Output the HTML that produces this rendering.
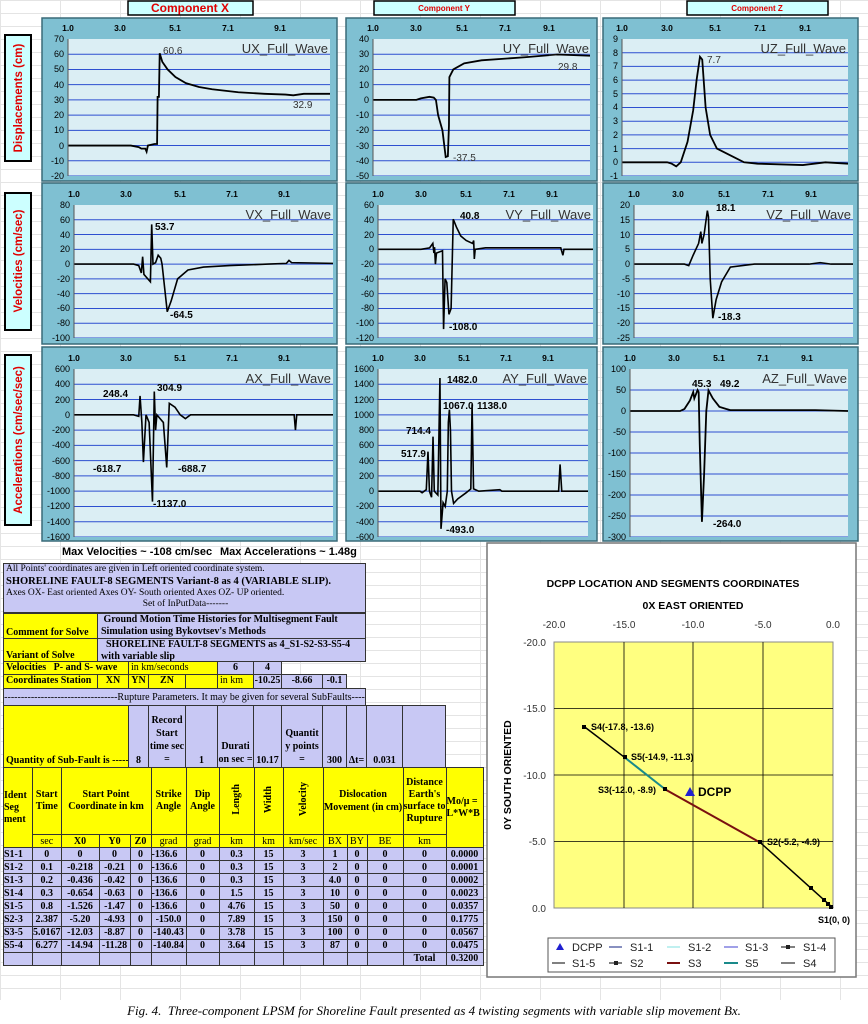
<!DOCTYPE html>
<html><head><meta charset="utf-8">
<style>
*{margin:0;padding:0;box-sizing:border-box}
body{width:868px;height:1024px;position:relative;background:#fff;overflow:hidden;font-family:"Liberation Sans",sans-serif}
.bg{position:absolute;left:0;top:0;width:868px;height:1000px;background-image:linear-gradient(#e4e4e4 1px,transparent 1px),linear-gradient(90deg,#e4e4e4 1px,transparent 1px);background-size:60px 13px,60px 13px}
.c{position:absolute;font-family:"Liberation Serif",serif;font-size:10px;font-weight:bold;color:#000;border:1px solid #333;line-height:11px;overflow:hidden;white-space:nowrap}
.y{background:#ffff00}.l{background:#c8c8f4}.w{background:#fff}
.ctr{text-align:center}.r{text-align:right}
.bt{display:flex;align-items:flex-end}
table.t{position:absolute;left:3px;top:767px;border-collapse:collapse;table-layout:fixed;font-family:"Liberation Serif",serif;font-size:10px;font-weight:bold}
table.t td{border:1px solid #333;text-align:center;padding:0;line-height:11px;overflow:hidden;white-space:nowrap}
table.t tr.d td{background:#c8c8f4;height:13.1px}
.vt{writing-mode:vertical-rl;transform:rotate(180deg);display:inline-block}
.cap{position:absolute;left:0;width:868px;top:1003px;text-align:center;font-family:"Liberation Serif",serif;font-style:italic;font-size:13px}
</style></head><body>
<div class="bg"></div>
<svg width="868" height="560" style="position:absolute;left:0;top:0" font-family="Liberation Sans, sans-serif">
<rect x="128" y="1" width="125" height="14" fill="#ccffff" stroke="#000" stroke-width="1.5"/>
<text x="190" y="12" text-anchor="middle" font-size="12" font-weight="bold" fill="#e00000">Component X</text>
<rect x="374" y="1" width="141" height="14" fill="#ccffff" stroke="#000" stroke-width="1.5"/>
<text x="444" y="11" text-anchor="middle" font-size="8" font-weight="bold" fill="#e00000">Component Y</text>
<rect x="687" y="1" width="141" height="14" fill="#ccffff" stroke="#000" stroke-width="1.5"/>
<text x="757" y="11" text-anchor="middle" font-size="8" font-weight="bold" fill="#e00000">Component Z</text>
<rect x="5" y="35" width="26" height="126" fill="#ccffff" stroke="#000" stroke-width="2"/>
<text transform="translate(22,98) rotate(-90)" text-anchor="middle" font-size="11.5" font-weight="bold" fill="#e00000">Displacements (cm)</text>
<rect x="5" y="193" width="26" height="137" fill="#ccffff" stroke="#000" stroke-width="2"/>
<text transform="translate(22,261) rotate(-90)" text-anchor="middle" font-size="11.5" font-weight="bold" fill="#e00000">Velocities (cm/sec)</text>
<rect x="5" y="355" width="26" height="170" fill="#ccffff" stroke="#000" stroke-width="2"/>
<text transform="translate(22,440) rotate(-90)" text-anchor="middle" font-size="11.5" font-weight="bold" fill="#e00000">Accelerations (cm/sec/sec)</text>
<g fill="#7fc0d2" stroke="#3a6a78" stroke-width="1.5">
<rect x="42" y="18" width="295" height="163"/><rect x="346" y="18" width="251" height="163"/><rect x="603" y="18" width="255" height="163"/>
<rect x="42" y="183" width="295" height="161"/><rect x="346" y="183" width="251" height="161"/><rect x="603" y="183" width="255" height="161"/>
<rect x="42" y="347" width="295" height="194"/><rect x="346" y="347" width="251" height="194"/><rect x="603" y="347" width="255" height="194"/>
</g>
<g font-size="9" fill="#000">

<g transform="translate(68,39)">
<rect width="262" height="137" fill="#dbeef4"/>
<svg width="262" height="137" viewBox="1 -70 10 90" preserveAspectRatio="none">
<g stroke="#2d4fd0"><line x1="1" x2="11" y1="-60" y2="-60" vector-effect="non-scaling-stroke"/><line x1="1" x2="11" y1="-50" y2="-50" vector-effect="non-scaling-stroke"/><line x1="1" x2="11" y1="-40" y2="-40" vector-effect="non-scaling-stroke"/><line x1="1" x2="11" y1="-30" y2="-30" vector-effect="non-scaling-stroke"/><line x1="1" x2="11" y1="-20" y2="-20" vector-effect="non-scaling-stroke"/><line x1="1" x2="11" y1="-10" y2="-10" vector-effect="non-scaling-stroke"/><line x1="1" x2="11" y1="0" y2="0" vector-effect="non-scaling-stroke"/><line x1="1" x2="11" y1="10" y2="10" vector-effect="non-scaling-stroke"/><line x1="1" x2="11" y1="20" y2="20" vector-effect="non-scaling-stroke"/></g>
<polyline fill="none" stroke="#000" stroke-width="1.8" vector-effect="non-scaling-stroke" points="1,0 3.4,0 3.7,1 3.8,2 3.95,2 4.0,4 4.05,0 4.3,-1 4.4,-1 4.42,-32 4.47,-32 4.5,-60.6 4.6,-55 4.8,-50 5.1,-45 5.5,-41 6,-38.5 6.5,-37 7.5,-35 8.5,-34 9.3,-33.5 9.6,-33 10,-34 11,-34"/>
</svg>
<line x1="0" y1="0" x2="0" y2="137" stroke="#555"/>
<g text-anchor="end"><text x="-4" y="3">70</text><text x="-4" y="18">60</text><text x="-4" y="33">50</text><text x="-4" y="49">40</text><text x="-4" y="64">30</text><text x="-4" y="79">20</text><text x="-4" y="94">10</text><text x="-4" y="110">0</text><text x="-4" y="125">-10</text><text x="-4" y="140">-20</text></g>
<g text-anchor="middle" font-weight="bold" font-size="8.5"><text x="0" y="-8">1.0</text><text x="52" y="-8">3.0</text><text x="107" y="-8">5.1</text><text x="160" y="-8">7.1</text><text x="212" y="-8">9.1</text></g>
<text x="260" y="14" text-anchor="end" font-size="13" fill="#333">UX_Full_Wave</text>
<text x="95" y="15" font-size="10" fill="#333">60.6</text><text x="225" y="69" font-size="10" fill="#333">32.9</text>
</g>

<g transform="translate(373,39)">
<rect width="217" height="137" fill="#dbeef4"/>
<svg width="217" height="137" viewBox="1 -40 10 90" preserveAspectRatio="none">
<g stroke="#2d4fd0"><line x1="1" x2="11" y1="-30" y2="-30" vector-effect="non-scaling-stroke"/><line x1="1" x2="11" y1="-20" y2="-20" vector-effect="non-scaling-stroke"/><line x1="1" x2="11" y1="-10" y2="-10" vector-effect="non-scaling-stroke"/><line x1="1" x2="11" y1="0" y2="0" vector-effect="non-scaling-stroke"/><line x1="1" x2="11" y1="10" y2="10" vector-effect="non-scaling-stroke"/><line x1="1" x2="11" y1="20" y2="20" vector-effect="non-scaling-stroke"/><line x1="1" x2="11" y1="30" y2="30" vector-effect="non-scaling-stroke"/><line x1="1" x2="11" y1="40" y2="40" vector-effect="non-scaling-stroke"/><line x1="1" x2="11" y1="50" y2="50" vector-effect="non-scaling-stroke"/></g>
<polyline fill="none" stroke="#000" stroke-width="1.8" vector-effect="non-scaling-stroke" points="1,0 3,0 3.2,-1 3.6,-2 3.8,-1.5 3.9,0 4.0,10 4.2,20 4.35,37.5 4.45,37 4.5,17 4.52,-15 4.7,-20 5.2,-24 6,-26 8,-28 9.5,-29.8 11,-29"/>
</svg>
<line x1="0" y1="0" x2="0" y2="137" stroke="#555"/>
<g text-anchor="end"><text x="-4" y="3">40</text><text x="-4" y="18">30</text><text x="-4" y="33">20</text><text x="-4" y="49">10</text><text x="-4" y="64">0</text><text x="-4" y="79">-10</text><text x="-4" y="94">-20</text><text x="-4" y="110">-30</text><text x="-4" y="125">-40</text><text x="-4" y="140">-50</text></g>
<g text-anchor="middle" font-weight="bold" font-size="8.5"><text x="0" y="-8">1.0</text><text x="43" y="-8">3.0</text><text x="89" y="-8">5.1</text><text x="132" y="-8">7.1</text><text x="176" y="-8">9.1</text></g>
<text x="216" y="14" text-anchor="end" font-size="13" fill="#333">UY_Full_Wave</text>
<text x="80" y="122" font-size="10" fill="#333">-37.5</text><text x="185" y="31" font-size="10" fill="#333">29.8</text>
</g>

<g transform="translate(622,39)">
<rect width="226" height="137" fill="#dbeef4"/>
<svg width="226" height="137" viewBox="1 -9 10 10" preserveAspectRatio="none">
<g stroke="#2d4fd0"><line x1="1" x2="11" y1="-8" y2="-8" vector-effect="non-scaling-stroke"/><line x1="1" x2="11" y1="-7" y2="-7" vector-effect="non-scaling-stroke"/><line x1="1" x2="11" y1="-6" y2="-6" vector-effect="non-scaling-stroke"/><line x1="1" x2="11" y1="-5" y2="-5" vector-effect="non-scaling-stroke"/><line x1="1" x2="11" y1="-4" y2="-4" vector-effect="non-scaling-stroke"/><line x1="1" x2="11" y1="-3" y2="-3" vector-effect="non-scaling-stroke"/><line x1="1" x2="11" y1="-2" y2="-2" vector-effect="non-scaling-stroke"/><line x1="1" x2="11" y1="-1" y2="-1" vector-effect="non-scaling-stroke"/><line x1="1" x2="11" y1="0" y2="0" vector-effect="non-scaling-stroke"/><line x1="1" x2="11" y1="1" y2="1" vector-effect="non-scaling-stroke"/></g>
<polyline fill="none" stroke="#000" stroke-width="1.8" vector-effect="non-scaling-stroke" points="1,0 3,0 3.2,0.1 3.4,0.3 3.6,0 3.9,-1.5 4.15,-3.8 4.3,-6 4.45,-7.7 4.55,-7.5 4.7,-4 4.9,-2 5.2,-1 5.8,-0.5 6.4,0 7,0.1 9,0.2 10,0 11,0.1"/>
</svg>
<line x1="0" y1="0" x2="0" y2="137" stroke="#555"/>
<g text-anchor="end"><text x="-4" y="3">9</text><text x="-4" y="17">8</text><text x="-4" y="30">7</text><text x="-4" y="44">6</text><text x="-4" y="58">5</text><text x="-4" y="71">4</text><text x="-4" y="85">3</text><text x="-4" y="99">2</text><text x="-4" y="113">1</text><text x="-4" y="126">0</text><text x="-4" y="140">-1</text></g>
<g text-anchor="middle" font-weight="bold" font-size="8.5"><text x="0" y="-8">1.0</text><text x="45" y="-8">3.0</text><text x="93" y="-8">5.1</text><text x="138" y="-8">7.1</text><text x="183" y="-8">9.1</text></g>
<text x="224" y="14" text-anchor="end" font-size="13" fill="#333">UZ_Full_Wave</text>
<text x="85" y="24" font-size="10" fill="#333">7.7</text>
</g>

<g transform="translate(74,205)">
<rect width="259" height="133" fill="#dbeef4"/>
<svg width="259" height="133" viewBox="1 -80 10 180" preserveAspectRatio="none">
<g stroke="#2d4fd0"><line x1="1" x2="11" y1="-60" y2="-60" vector-effect="non-scaling-stroke"/><line x1="1" x2="11" y1="-40" y2="-40" vector-effect="non-scaling-stroke"/><line x1="1" x2="11" y1="-20" y2="-20" vector-effect="non-scaling-stroke"/><line x1="1" x2="11" y1="0" y2="0" vector-effect="non-scaling-stroke"/><line x1="1" x2="11" y1="20" y2="20" vector-effect="non-scaling-stroke"/><line x1="1" x2="11" y1="40" y2="40" vector-effect="non-scaling-stroke"/><line x1="1" x2="11" y1="60" y2="60" vector-effect="non-scaling-stroke"/><line x1="1" x2="11" y1="80" y2="80" vector-effect="non-scaling-stroke"/><line x1="1" x2="11" y1="100" y2="100" vector-effect="non-scaling-stroke"/></g>
<polyline fill="none" stroke="#000" stroke-width="1.6" vector-effect="non-scaling-stroke" points="1,0 3.3,0 3.5,2 3.6,12 3.65,-10 3.7,14 3.95,24 4.0,-53.7 4.05,0 4.15,-2 4.25,-12 4.35,-8 4.4,0 4.6,64.5 4.75,50 5.0,20 5.4,8 6,4 7,2 8.5,0 9.2,-1 9.3,-5 9.4,-2 11,-1"/>
</svg>
<line x1="0" y1="0" x2="0" y2="133" stroke="#555"/>
<g text-anchor="end"><text x="-4" y="3">80</text><text x="-4" y="18">60</text><text x="-4" y="33">40</text><text x="-4" y="47">20</text><text x="-4" y="62">0</text><text x="-4" y="77">-20</text><text x="-4" y="92">-40</text><text x="-4" y="106">-60</text><text x="-4" y="121">-80</text><text x="-4" y="136">-100</text></g>
<g text-anchor="middle" font-weight="bold" font-size="8.5"><text x="0" y="-8">1.0</text><text x="52" y="-8">3.0</text><text x="106" y="-8">5.1</text><text x="158" y="-8">7.1</text><text x="210" y="-8">9.1</text></g>
<text x="257" y="14" text-anchor="end" font-size="13" fill="#333">VX_Full_Wave</text>
<text x="81" y="25" font-size="10" font-weight="bold">53.7</text><text x="96" y="113" font-size="10" font-weight="bold">-64.5</text>
</g>

<g transform="translate(378,205)">
<rect width="215" height="133" fill="#dbeef4"/>
<svg width="215" height="133" viewBox="1 -60 10 180" preserveAspectRatio="none">
<g stroke="#2d4fd0"><line x1="1" x2="11" y1="-40" y2="-40" vector-effect="non-scaling-stroke"/><line x1="1" x2="11" y1="-20" y2="-20" vector-effect="non-scaling-stroke"/><line x1="1" x2="11" y1="0" y2="0" vector-effect="non-scaling-stroke"/><line x1="1" x2="11" y1="20" y2="20" vector-effect="non-scaling-stroke"/><line x1="1" x2="11" y1="40" y2="40" vector-effect="non-scaling-stroke"/><line x1="1" x2="11" y1="60" y2="60" vector-effect="non-scaling-stroke"/><line x1="1" x2="11" y1="80" y2="80" vector-effect="non-scaling-stroke"/><line x1="1" x2="11" y1="100" y2="100" vector-effect="non-scaling-stroke"/><line x1="1" x2="11" y1="120" y2="120" vector-effect="non-scaling-stroke"/></g>
<polyline fill="none" stroke="#000" stroke-width="1.6" vector-effect="non-scaling-stroke" points="1,0 3,0 3.4,-2 3.55,-8 3.6,5 3.63,-3 3.67,20 3.72,5 4.0,2 4.05,108 4.12,40 4.2,45 4.3,88 4.4,80 4.5,-40.8 4.65,-30 4.85,-18 5.1,-12 5.4,-8 5.45,-12 5.48,13 5.52,0 6,-2 9.5,-2 9.6,8 9.65,0 11,0"/>
</svg>
<line x1="0" y1="0" x2="0" y2="133" stroke="#555"/>
<g text-anchor="end"><text x="-4" y="3">60</text><text x="-4" y="18">40</text><text x="-4" y="33">20</text><text x="-4" y="47">0</text><text x="-4" y="62">-20</text><text x="-4" y="77">-40</text><text x="-4" y="92">-60</text><text x="-4" y="106">-80</text><text x="-4" y="121">-100</text><text x="-4" y="136">-120</text></g>
<g text-anchor="middle" font-weight="bold" font-size="8.5"><text x="0" y="-8">1.0</text><text x="43" y="-8">3.0</text><text x="88" y="-8">5.1</text><text x="131" y="-8">7.1</text><text x="174" y="-8">9.1</text></g>
<text x="213" y="14" text-anchor="end" font-size="13" fill="#333">VY_Full_Wave</text>
<text x="82" y="14" font-size="10" font-weight="bold">40.8</text><text x="71" y="125" font-size="10" font-weight="bold">-108.0</text>
</g>

<g transform="translate(634,205)">
<rect width="219" height="133" fill="#dbeef4"/>
<svg width="219" height="133" viewBox="1 -20 10 45" preserveAspectRatio="none">
<g stroke="#2d4fd0"><line x1="1" x2="11" y1="-15" y2="-15" vector-effect="non-scaling-stroke"/><line x1="1" x2="11" y1="-10" y2="-10" vector-effect="non-scaling-stroke"/><line x1="1" x2="11" y1="-5" y2="-5" vector-effect="non-scaling-stroke"/><line x1="1" x2="11" y1="0" y2="0" vector-effect="non-scaling-stroke"/><line x1="1" x2="11" y1="5" y2="5" vector-effect="non-scaling-stroke"/><line x1="1" x2="11" y1="10" y2="10" vector-effect="non-scaling-stroke"/><line x1="1" x2="11" y1="15" y2="15" vector-effect="non-scaling-stroke"/><line x1="1" x2="11" y1="20" y2="20" vector-effect="non-scaling-stroke"/><line x1="1" x2="11" y1="25" y2="25" vector-effect="non-scaling-stroke"/></g>
<polyline fill="none" stroke="#000" stroke-width="1.6" vector-effect="non-scaling-stroke" points="1,0 3.3,0 3.5,0.5 3.7,-3 3.95,-7 4.05,-11 4.1,-7 4.2,-10 4.35,-18.1 4.4,-16 4.48,5 4.6,18.3 4.75,12 5.0,6 5.4,1 6.5,0 9,0 9.5,-0.5 10,0 11,0"/>
</svg>
<line x1="0" y1="0" x2="0" y2="133" stroke="#555"/>
<g text-anchor="end"><text x="-4" y="3">20</text><text x="-4" y="18">15</text><text x="-4" y="33">10</text><text x="-4" y="47">5</text><text x="-4" y="62">0</text><text x="-4" y="77">-5</text><text x="-4" y="92">-10</text><text x="-4" y="106">-15</text><text x="-4" y="121">-20</text><text x="-4" y="136">-25</text></g>
<g text-anchor="middle" font-weight="bold" font-size="8.5"><text x="0" y="-8">1.0</text><text x="44" y="-8">3.0</text><text x="90" y="-8">5.1</text><text x="134" y="-8">7.1</text><text x="177" y="-8">9.1</text></g>
<text x="217" y="14" text-anchor="end" font-size="13" fill="#333">VZ_Full_Wave</text>
<text x="82" y="6" font-size="10" font-weight="bold">18.1</text><text x="84" y="115" font-size="10" font-weight="bold">-18.3</text>
</g>

<g transform="translate(74,369)">
<rect width="259" height="168" fill="#dbeef4"/>
<svg width="259" height="168" viewBox="1 -600 10 2200" preserveAspectRatio="none">
<g stroke="#2d4fd0"><line x1="1" x2="11" y1="-400" y2="-400" vector-effect="non-scaling-stroke"/><line x1="1" x2="11" y1="-200" y2="-200" vector-effect="non-scaling-stroke"/><line x1="1" x2="11" y1="0" y2="0" vector-effect="non-scaling-stroke"/><line x1="1" x2="11" y1="200" y2="200" vector-effect="non-scaling-stroke"/><line x1="1" x2="11" y1="400" y2="400" vector-effect="non-scaling-stroke"/><line x1="1" x2="11" y1="600" y2="600" vector-effect="non-scaling-stroke"/><line x1="1" x2="11" y1="800" y2="800" vector-effect="non-scaling-stroke"/><line x1="1" x2="11" y1="1000" y2="1000" vector-effect="non-scaling-stroke"/><line x1="1" x2="11" y1="1200" y2="1200" vector-effect="non-scaling-stroke"/><line x1="1" x2="11" y1="1400" y2="1400" vector-effect="non-scaling-stroke"/><line x1="1" x2="11" y1="1600" y2="1600" vector-effect="non-scaling-stroke"/></g>
<polyline fill="none" stroke="#000" stroke-width="1.6" vector-effect="non-scaling-stroke" points="1,0 3.3,0 3.5,20 3.55,-248 3.62,100 3.68,618.7 3.78,0 3.9,100 4.03,1137 4.1,-304.9 4.15,200 4.2,0 4.45,100 4.58,688.7 4.68,-150 4.9,-100 5.1,0 5.3,50 5.5,0 9.5,0 9.55,200 9.6,0 11,0"/>
</svg>
<line x1="0" y1="0" x2="0" y2="168" stroke="#555"/>
<g text-anchor="end"><text x="-4" y="3">600</text><text x="-4" y="18">400</text><text x="-4" y="34">200</text><text x="-4" y="49">0</text><text x="-4" y="64">-200</text><text x="-4" y="79">-400</text><text x="-4" y="95">-600</text><text x="-4" y="110">-800</text><text x="-4" y="125">-1000</text><text x="-4" y="140">-1200</text><text x="-4" y="156">-1400</text><text x="-4" y="171">-1600</text></g>
<g text-anchor="middle" font-weight="bold" font-size="8.5"><text x="0" y="-8">1.0</text><text x="52" y="-8">3.0</text><text x="106" y="-8">5.1</text><text x="158" y="-8">7.1</text><text x="210" y="-8">9.1</text></g>
<text x="257" y="14" text-anchor="end" font-size="13" fill="#333">AX_Full_Wave</text>
<g font-size="10" font-weight="bold"><text x="29" y="28">248.4</text><text x="83" y="22">304.9</text><text x="19" y="103">-618.7</text><text x="104" y="103">-688.7</text><text x="79" y="138">-1137.0</text></g>
</g>

<g transform="translate(378,369)">
<rect width="210" height="168" fill="#dbeef4"/>
<svg width="210" height="168" viewBox="1 -1600 10 2200" preserveAspectRatio="none">
<g stroke="#2d4fd0"><line x1="1" x2="11" y1="-1400" y2="-1400" vector-effect="non-scaling-stroke"/><line x1="1" x2="11" y1="-1200" y2="-1200" vector-effect="non-scaling-stroke"/><line x1="1" x2="11" y1="-1000" y2="-1000" vector-effect="non-scaling-stroke"/><line x1="1" x2="11" y1="-800" y2="-800" vector-effect="non-scaling-stroke"/><line x1="1" x2="11" y1="-600" y2="-600" vector-effect="non-scaling-stroke"/><line x1="1" x2="11" y1="-400" y2="-400" vector-effect="non-scaling-stroke"/><line x1="1" x2="11" y1="-200" y2="-200" vector-effect="non-scaling-stroke"/><line x1="1" x2="11" y1="0" y2="0" vector-effect="non-scaling-stroke"/><line x1="1" x2="11" y1="200" y2="200" vector-effect="non-scaling-stroke"/><line x1="1" x2="11" y1="400" y2="400" vector-effect="non-scaling-stroke"/><line x1="1" x2="11" y1="600" y2="600" vector-effect="non-scaling-stroke"/></g>
<polyline fill="none" stroke="#000" stroke-width="1.6" vector-effect="non-scaling-stroke" points="1,0 3,0 3.1,20 3.2,0 3.3,-20 3.38,-517.9 3.45,0 3.55,80 3.62,-714.4 3.68,0 3.85,50 3.95,-1482 4.0,493 4.1,150 4.2,200 4.3,0 4.35,-900 4.4,-1067 4.45,-800 4.5,0 4.6,160 4.8,100 5.2,20 5.42,-30 5.48,-1138 5.55,-30 5.8,0 6.8,-20 6.9,0 9.6,0 9.67,-350 9.75,0 11,0"/>
</svg>
<line x1="0" y1="0" x2="0" y2="168" stroke="#555"/>
<g text-anchor="end"><text x="-4" y="3">1600</text><text x="-4" y="18">1400</text><text x="-4" y="34">1200</text><text x="-4" y="49">1000</text><text x="-4" y="64">800</text><text x="-4" y="79">600</text><text x="-4" y="95">400</text><text x="-4" y="110">200</text><text x="-4" y="125">0</text><text x="-4" y="140">-200</text><text x="-4" y="156">-400</text><text x="-4" y="171">-600</text></g>
<g text-anchor="middle" font-weight="bold" font-size="8.5"><text x="0" y="-8">1.0</text><text x="42" y="-8">3.0</text><text x="86" y="-8">5.1</text><text x="128" y="-8">7.1</text><text x="170" y="-8">9.1</text></g>
<text x="209" y="14" text-anchor="end" font-size="13" fill="#333">AY_Full_Wave</text>
<g font-size="10" font-weight="bold"><text x="48" y="88" text-anchor="end">517.9</text><text x="53" y="65" text-anchor="end">714.4</text><text x="69" y="14">1482.0</text><text x="65" y="40">1067.0</text><text x="99" y="40">1138.0</text><text x="68" y="164">-493.0</text></g>
</g>

<g transform="translate(630,369)">
<rect width="218" height="168" fill="#dbeef4"/>
<svg width="218" height="168" viewBox="1 -100 10 400" preserveAspectRatio="none">
<g stroke="#2d4fd0"><line x1="1" x2="11" y1="-50" y2="-50" vector-effect="non-scaling-stroke"/><line x1="1" x2="11" y1="0" y2="0" vector-effect="non-scaling-stroke"/><line x1="1" x2="11" y1="50" y2="50" vector-effect="non-scaling-stroke"/><line x1="1" x2="11" y1="100" y2="100" vector-effect="non-scaling-stroke"/><line x1="1" x2="11" y1="150" y2="150" vector-effect="non-scaling-stroke"/><line x1="1" x2="11" y1="200" y2="200" vector-effect="non-scaling-stroke"/><line x1="1" x2="11" y1="250" y2="250" vector-effect="non-scaling-stroke"/><line x1="1" x2="11" y1="300" y2="300" vector-effect="non-scaling-stroke"/></g>
<polyline fill="none" stroke="#000" stroke-width="1.8" vector-effect="non-scaling-stroke" points="1,0 3.3,0 3.5,-5 3.75,-25 3.9,-45 3.95,-30 4.1,-50 4.15,-45 4.2,80 4.3,264 4.4,150 4.5,0 4.6,-49 4.8,-30 5.1,-10 5.4,-5 5.6,-2 9.5,-2 11,0"/>
</svg>
<line x1="0" y1="0" x2="0" y2="168" stroke="#555"/>
<g text-anchor="end"><text x="-4" y="3">100</text><text x="-4" y="24">50</text><text x="-4" y="45">0</text><text x="-4" y="66">-50</text><text x="-4" y="87">-100</text><text x="-4" y="108">-150</text><text x="-4" y="129">-200</text><text x="-4" y="150">-250</text><text x="-4" y="171">-300</text></g>
<g text-anchor="middle" font-weight="bold" font-size="8.5"><text x="0" y="-8">1.0</text><text x="44" y="-8">3.0</text><text x="89" y="-8">5.1</text><text x="133" y="-8">7.1</text><text x="177" y="-8">9.1</text></g>
<text x="217" y="14" text-anchor="end" font-size="13" fill="#333">AZ_Full_Wave</text>
<g font-size="10" font-weight="bold"><text x="62" y="18">45.3</text><text x="90" y="18">49.2</text><text x="83" y="158">-264.0</text></g>
</g>
</g>
<text x="62" y="555" font-size="11" font-weight="bold">Max Velocities ~ -108 cm/sec</text>
<text x="220" y="555" font-size="11" font-weight="bold">Max Accelerations ~ 1.48g</text>
</svg>

<div class="c l" style="left:3px;top:563px;width:363px;height:50px;font-weight:normal;font-size:9.5px;padding-left:2px">
<div style="height:11px">All Points' coordinates are given in Left oriented coordinate system.</div>
<div style="height:13px;font-weight:bold;font-size:10.5px;line-height:14px">SHORELINE FAULT-8 SEGMENTS Variant-8 as 4 (VARIABLE SLIP).</div>
<div style="height:11px">Axes OX- East oriented Axes OY- South oriented Axes OZ- UP oriented.</div>
<div style="height:11px;text-align:center">Set of InPutData-------</div>
</div>
<div class="c y bt" style="left:3px;top:613px;width:95px;height:26px;padding-left:2px">Comment for Solve</div>
<div class="c l" style="left:97px;top:613px;width:269px;height:26px;padding-left:3px;line-height:12px">&nbsp;Ground Motion Time Histories for Multisegment Fault<br>Simulation using Bykovtsev's Methods</div>
<div class="c y bt" style="left:3px;top:638px;width:95px;height:24px;padding-left:2px">Variant of Solve</div>
<div class="c l" style="left:97px;top:638px;width:269px;height:24px;padding-left:3px;line-height:12px">&nbsp;&nbsp;SHORELINE FAULT-8 SEGMENTS as 4_S1-S2-S3-S5-4<br>with variable slip</div>
<div class="c y" style="left:3px;top:661px;width:126px;height:14px;padding-left:2px">Velocities&nbsp;&nbsp; P- and S- wave</div>
<div class="c y" style="left:128px;top:661px;width:90px;height:14px;font-weight:normal;padding-left:2px">in km/seconds</div>
<div class="c l ctr" style="left:217px;top:661px;width:37px;height:14px">6</div>
<div class="c l ctr" style="left:253px;top:661px;width:29px;height:14px">4</div>
<div class="c y" style="left:3px;top:674px;width:95px;height:15px;padding-left:2px">Coordinates Station</div>
<div class="c y ctr" style="left:97px;top:674px;width:32px;height:15px">XN</div>
<div class="c y ctr" style="left:128px;top:674px;width:21px;height:15px">YN</div>
<div class="c y ctr" style="left:148px;top:674px;width:38px;height:15px">ZN</div>
<div class="c y" style="left:185px;top:674px;width:33px;height:15px"></div>
<div class="c y" style="left:217px;top:674px;width:37px;height:15px;font-weight:normal;padding-left:2px">in km</div>
<div class="c l ctr" style="left:253px;top:674px;width:29px;height:15px">-10.25</div>
<div class="c l ctr" style="left:281px;top:674px;width:42px;height:15px">-8.66</div>
<div class="c l ctr" style="left:322px;top:674px;width:25px;height:15px">-0.1</div>
<div class="c l" style="left:3px;top:688px;width:363px;height:18px;font-weight:normal;text-align:center;padding-top:3px">----------------------------------Rupture Parameters. It may be given for several SubFaults----</div>
<div class="c y bt" style="left:3px;top:705px;width:126px;height:63px;padding-left:2px;padding-bottom:1px">Quantity of Sub-Fault is -----</div>
<div class="c l bt" style="left:128px;top:705px;width:21px;height:63px;justify-content:center;padding-bottom:1px">8</div>
<div class="c l bt" style="left:148px;top:705px;width:38px;height:63px;justify-content:center;text-align:center;white-space:normal;line-height:13px;padding-bottom:1px">Record Start time sec =</div>
<div class="c l bt" style="left:185px;top:705px;width:33px;height:63px;justify-content:center;padding-bottom:1px">1</div>
<div class="c l bt" style="left:217px;top:705px;width:37px;height:63px;justify-content:center;text-align:center;white-space:normal;line-height:13px;padding-bottom:1px">Durati on sec =</div>
<div class="c l bt" style="left:253px;top:705px;width:29px;height:63px;justify-content:center;padding-bottom:1px">10.17</div>
<div class="c l bt" style="left:281px;top:705px;width:42px;height:63px;justify-content:center;text-align:center;white-space:normal;line-height:13px;padding-bottom:1px">Quantit y points =</div>
<div class="c l bt" style="left:322px;top:705px;width:25px;height:63px;justify-content:center;padding-bottom:1px">300</div>
<div class="c l bt" style="left:346px;top:705px;width:21px;height:63px;justify-content:center;padding-bottom:1px">Δt=</div>
<div class="c l bt" style="left:366px;top:705px;width:37px;height:63px;justify-content:center;padding-bottom:1px">0.031</div>
<div class="c l" style="left:402px;top:705px;width:44px;height:63px"></div>

<table class="t">
<colgroup><col style="width:29px"><col style="width:28px"><col style="width:38px"><col style="width:31px"><col style="width:21px"><col style="width:35px"><col style="width:33px"><col style="width:35px"><col style="width:29px"><col style="width:40px"><col style="width:24px"><col style="width:20px"><col style="width:36px"><col style="width:43px"><col style="width:37px"></colgroup>
<tr style="height:67px;background:#ffff00"><td rowspan="2" style="white-space:normal;text-align:left;line-height:12px">Ident Seg ment</td><td style="white-space:normal;line-height:12px">Start Time</td><td colspan="3" style="white-space:normal;line-height:12px">Start Point Coordinate in km</td><td style="white-space:normal;line-height:12px">Strike Angle</td><td style="white-space:normal;line-height:12px">Dip Angle</td><td><span class="vt">Length</span></td><td><span class="vt">Width</span></td><td><span class="vt">Velocity</span></td><td colspan="3" style="white-space:normal;line-height:13px">Dislocation Movement (in cm)</td><td style="white-space:normal;line-height:12px">Distance Earth's surface to Rupture</td><td rowspan="2" style="white-space:normal;text-align:left;line-height:12px">Mo/μ = L*W*B</td></tr>
<tr style="height:13px;background:#ffff00"><td style="font-weight:normal">sec</td><td>X0</td><td>Y0</td><td>Z0</td><td style="font-weight:normal">grad</td><td style="font-weight:normal">grad</td><td style="font-weight:normal">km</td><td style="font-weight:normal">km</td><td style="font-weight:normal">km/sec</td><td style="font-weight:normal">BX</td><td style="font-weight:normal">BY</td><td style="font-weight:normal">BE</td><td style="font-weight:normal">km</td></tr>
<tr class="d"><td style="text-align:left">S1-1</td><td>0</td><td>0</td><td>0</td><td>0</td><td style="text-align:left">-136.6</td><td>0</td><td>0.3</td><td>15</td><td>3</td><td>1</td><td>0</td><td>0</td><td>0</td><td>0.0000</td></tr>
<tr class="d"><td style="text-align:left">S1-2</td><td>0.1</td><td>-0.218</td><td>-0.21</td><td>0</td><td style="text-align:left">-136.6</td><td>0</td><td>0.3</td><td>15</td><td>3</td><td>2</td><td>0</td><td>0</td><td>0</td><td>0.0001</td></tr>
<tr class="d"><td style="text-align:left">S1-3</td><td>0.2</td><td>-0.436</td><td>-0.42</td><td>0</td><td style="text-align:left">-136.6</td><td>0</td><td>0.3</td><td>15</td><td>3</td><td>4.0</td><td>0</td><td>0</td><td>0</td><td>0.0002</td></tr>
<tr class="d"><td style="text-align:left">S1-4</td><td>0.3</td><td>-0.654</td><td>-0.63</td><td>0</td><td style="text-align:left">-136.6</td><td>0</td><td>1.5</td><td>15</td><td>3</td><td>10</td><td>0</td><td>0</td><td>0</td><td>0.0023</td></tr>
<tr class="d"><td style="text-align:left">S1-5</td><td>0.8</td><td>-1.526</td><td>-1.47</td><td>0</td><td style="text-align:left">-136.6</td><td>0</td><td>4.76</td><td>15</td><td>3</td><td>50</td><td>0</td><td>0</td><td>0</td><td>0.0357</td></tr>
<tr class="d"><td style="text-align:left">S2-3</td><td>2.387</td><td>-5.20</td><td>-4.93</td><td>0</td><td>-150.0</td><td>0</td><td>7.89</td><td>15</td><td>3</td><td>150</td><td>0</td><td>0</td><td>0</td><td>0.1775</td></tr>
<tr class="d"><td style="text-align:left">S3-5</td><td>5.0167</td><td>-12.03</td><td>-8.87</td><td>0</td><td>-140.43</td><td>0</td><td>3.78</td><td>15</td><td>3</td><td>100</td><td>0</td><td>0</td><td>0</td><td>0.0567</td></tr>
<tr class="d"><td style="text-align:left">S5-4</td><td>6.277</td><td>-14.94</td><td>-11.28</td><td>0</td><td>-140.84</td><td>0</td><td>3.64</td><td>15</td><td>3</td><td>87</td><td>0</td><td>0</td><td>0</td><td>0.0475</td></tr>
<tr class="d"><td></td><td></td><td></td><td></td><td></td><td></td><td></td><td></td><td></td><td></td><td></td><td></td><td></td><td>Total</td><td>0.3200</td></tr>
</table>

<svg width="868" height="1024" style="position:absolute;left:0;top:0;pointer-events:none" font-family="Liberation Sans, sans-serif">
<rect x="487" y="543" width="369" height="434" fill="#fff" stroke="#777" stroke-width="1.5"/>
<text x="673" y="587" text-anchor="middle" font-size="10.5" font-weight="bold">DCPP LOCATION AND SEGMENTS COORDINATES</text>
<text x="693" y="609" text-anchor="middle" font-size="10.5" font-weight="bold">0X EAST ORIENTED</text>
<g font-size="10" fill="#333" text-anchor="middle"><text x="554" y="628">-20.0</text><text x="624" y="628">-15.0</text><text x="693" y="628">-10.0</text><text x="763" y="628">-5.0</text><text x="833" y="628">0.0</text></g>
<g font-size="10" fill="#333" text-anchor="end"><text x="546" y="646">-20.0</text><text x="546" y="712">-15.0</text><text x="546" y="779">-10.0</text><text x="546" y="845">-5.0</text><text x="546" y="912">0.0</text></g>
<text transform="translate(511,775) rotate(-90)" text-anchor="middle" font-size="10.5" font-weight="bold">0Y SOUTH ORIENTED</text>
<rect x="554" y="642" width="279" height="266" fill="#ffff80" stroke="#888"/>
<g stroke="#000" stroke-width="0.8"><line x1="624" y1="642" x2="624" y2="908"/><line x1="693" y1="642" x2="693" y2="908"/><line x1="763" y1="642" x2="763" y2="908"/><line x1="554" y1="708.5" x2="833" y2="708.5"/><line x1="554" y1="775" x2="833" y2="775"/><line x1="554" y1="841.5" x2="833" y2="841.5"/></g>
<polyline points="833,908 760.5,842.8" fill="none" stroke="#000" stroke-width="1.5"/>
<polyline points="760.5,842.8 665.6,789.6" fill="none" stroke="#7a1010" stroke-width="2"/>
<polyline points="665.6,789.6 625,757.7" fill="none" stroke="#1a8a8a" stroke-width="2"/>
<polyline points="625,757.7 584.7,727" fill="none" stroke="#000" stroke-width="1.5"/>
<g fill="#000"><rect x="809" y="886" width="4" height="4"/><rect x="822" y="898" width="4" height="4"/><rect x="826" y="902" width="4" height="4"/><rect x="829" y="905" width="4" height="4"/><rect x="758" y="840" width="4" height="4"/><rect x="663" y="787" width="4" height="4"/><rect x="623" y="755" width="4" height="4"/><rect x="582" y="725" width="4" height="4"/></g>
<polygon points="690,787 685,796 695,796" fill="#2020d0"/>
<g font-size="9" font-weight="bold"><text x="591" y="730">S4(-17.8, -13.6)</text><text x="631" y="760">S5(-14.9, -11.3)</text><text x="598" y="793">S3(-12.0, -8.9)</text><text x="767" y="845">S2(-5.2, -4.9)</text><text x="818" y="923">S1(0, 0)</text></g>
<text x="698" y="796" font-size="12" font-weight="bold">DCPP</text>
<rect x="548" y="938" width="287" height="34" fill="#fff" stroke="#555"/>
<g font-size="11" fill="#222">
<polygon points="560,943 556,950 564,950" fill="#2020d0"/><text x="572" y="951">DCPP</text>
<line x1="609" y1="947" x2="622" y2="947" stroke="#102080"/><text x="630" y="951">S1-1</text>
<line x1="667" y1="947" x2="680" y2="947" stroke="#80e0e0"/><text x="688" y="951">S1-2</text>
<line x1="724" y1="947" x2="738" y2="947" stroke="#4040d0"/><text x="745" y="951">S1-3</text>
<line x1="781" y1="947" x2="795" y2="947" stroke="#000"/><rect x="786" y="945" width="4" height="4"/><text x="803" y="951">S1-4</text>
<line x1="552" y1="963" x2="565" y2="963" stroke="#000"/><text x="572" y="967">S1-5</text>
<line x1="609" y1="963" x2="622" y2="963" stroke="#000"/><rect x="614" y="961" width="4" height="4"/><text x="630" y="967">S2</text>
<line x1="667" y1="963" x2="680" y2="963" stroke="#7a1010" stroke-width="2"/><text x="688" y="967">S3</text>
<line x1="724" y1="963" x2="738" y2="963" stroke="#1a8a8a" stroke-width="2"/><text x="745" y="967">S5</text>
<line x1="781" y1="963" x2="795" y2="963" stroke="#000"/><text x="803" y="967">S4</text>
</g>
</svg>
<div class="cap">Fig. 4.&nbsp; Three-component LPSM for Shoreline Fault presented as 4 twisting segments with variable slip movement Bx.</div>
</body></html>
